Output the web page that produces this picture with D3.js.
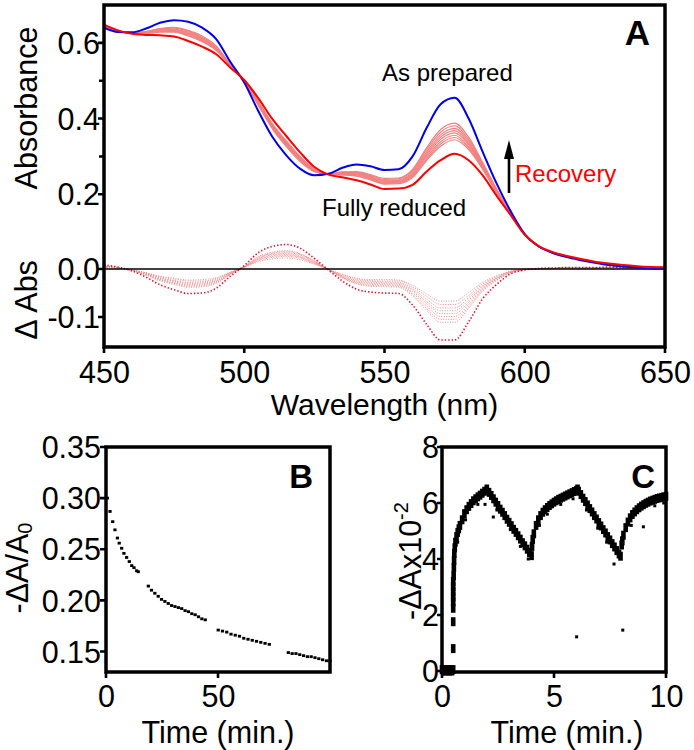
<!DOCTYPE html>
<html><head><meta charset="utf-8">
<script src="https://cdn.jsdelivr.net/npm/d3@7"></script>
<style>
html,body{margin:0;padding:0;background:#fff;}
#wrap{position:relative;width:694px;height:750px;}
#wrap svg{position:absolute;left:0;top:0;display:block;}
</style></head><body>
<div id="wrap"><svg id="chart" width="694" height="750"></svg><svg id="frames" width="694" height="750"></svg></div>
<script>
// ---------------- DATA ----------------
const wavelengths = [450,455,460,465,470,475,480,485,490,495,500,505,510,515,520,525,530,535,540,545,550,555,560,565,570,575,580,585,590,595,600,605,610,615,620,625,630,635,640,645,650];
const asPrepared = [0.640,0.629,0.628,0.638,0.653,0.660,0.656,0.640,0.610,0.550,0.495,0.420,0.352,0.303,0.267,0.250,0.254,0.270,0.279,0.274,0.264,0.266,0.300,0.375,0.438,0.455,0.400,0.312,0.228,0.155,0.095,0.062,0.045,0.034,0.026,0.019,0.013,0.009,0.006,0.004,0.003];
const fullyReduced = [0.648,0.633,0.624,0.621,0.620,0.617,0.605,0.590,0.570,0.535,0.502,0.454,0.399,0.354,0.310,0.272,0.252,0.245,0.237,0.226,0.214,0.215,0.225,0.260,0.290,0.307,0.290,0.250,0.196,0.145,0.093,0.063,0.047,0.037,0.029,0.022,0.017,0.013,0.010,0.008,0.007];
const rec1 = [0.644,0.631,0.626,0.630,0.638,0.641,0.633,0.618,0.592,0.543,0.498,0.435,0.373,0.326,0.286,0.260,0.253,0.259,0.260,0.252,0.242,0.243,0.266,0.323,0.371,0.388,0.351,0.284,0.214,0.150,0.094,0.062,0.046,0.035,0.027,0.020,0.015,0.011,0.008,0.006,0.005];
const rec2 = [0.644,0.631,0.626,0.630,0.637,0.639,0.631,0.615,0.590,0.543,0.499,0.437,0.376,0.329,0.289,0.261,0.253,0.258,0.258,0.250,0.239,0.241,0.263,0.318,0.364,0.381,0.345,0.281,0.212,0.150,0.094,0.062,0.046,0.035,0.027,0.021,0.015,0.011,0.008,0.006,0.005];
const rec3 = [0.644,0.631,0.626,0.629,0.635,0.636,0.628,0.613,0.588,0.542,0.499,0.439,0.378,0.331,0.291,0.262,0.253,0.256,0.256,0.248,0.237,0.238,0.259,0.312,0.357,0.374,0.340,0.278,0.210,0.150,0.094,0.062,0.046,0.036,0.028,0.021,0.015,0.011,0.008,0.006,0.005];
const rec4 = [0.645,0.631,0.626,0.628,0.634,0.635,0.626,0.611,0.586,0.541,0.499,0.440,0.380,0.333,0.292,0.263,0.253,0.255,0.254,0.246,0.235,0.236,0.256,0.307,0.351,0.368,0.335,0.275,0.209,0.149,0.094,0.062,0.046,0.036,0.028,0.021,0.015,0.011,0.008,0.006,0.005];
const rec5 = [0.645,0.632,0.625,0.627,0.632,0.633,0.624,0.609,0.585,0.541,0.499,0.441,0.382,0.335,0.294,0.264,0.253,0.254,0.252,0.244,0.233,0.234,0.253,0.303,0.345,0.362,0.331,0.273,0.208,0.149,0.094,0.063,0.046,0.036,0.028,0.021,0.016,0.012,0.009,0.007,0.006];
const rec6 = [0.645,0.632,0.625,0.627,0.631,0.631,0.622,0.607,0.583,0.540,0.500,0.443,0.384,0.337,0.296,0.265,0.253,0.253,0.251,0.242,0.231,0.232,0.250,0.298,0.339,0.356,0.326,0.271,0.207,0.148,0.094,0.063,0.046,0.036,0.028,0.021,0.016,0.012,0.009,0.007,0.006];
const rec7 = [0.646,0.632,0.625,0.626,0.630,0.630,0.620,0.605,0.582,0.539,0.500,0.444,0.385,0.339,0.298,0.266,0.253,0.252,0.249,0.240,0.229,0.230,0.247,0.293,0.333,0.350,0.322,0.268,0.205,0.148,0.094,0.063,0.047,0.037,0.028,0.021,0.016,0.012,0.009,0.007,0.006];
const rec8 = [0.646,0.632,0.625,0.625,0.628,0.628,0.618,0.603,0.580,0.539,0.500,0.446,0.387,0.341,0.299,0.267,0.253,0.251,0.248,0.238,0.227,0.228,0.244,0.289,0.327,0.344,0.318,0.266,0.204,0.147,0.094,0.063,0.047,0.037,0.029,0.022,0.016,0.012,0.009,0.007,0.006];
const recoverySpectra = [rec1,rec2,rec3,rec4,rec5,rec6,rec7,rec8];

const absTicks = [0.2,0.4,0.6];
const absMinorTicks = [0.3,0.5];
const deltaTicks = [0.0,-0.1];
const wlTicks = [450,500,550,600,650];

// Panel B
const bTime = [0.6,1.8,3.0,4.0,5.1,5.9,7.0,8.0,9.2,10.4,11.5,12.5,13.7,14.4,
  18.9,20.3,21.8,23.3,24.8,26.3,27.8,29.3,30.8,32.3,33.8,35.3,36.8,38.3,39.8,41.3,42.8,44.3,
  50.1,52.0,53.9,55.8,57.7,59.6,61.5,63.4,65.3,67.2,69.1,71.0,72.9,
  81.4,83.1,84.8,86.5,88.2,89.9,91.6,93.3,95.0,96.7,98.4,100.0];
const bValue = [0.300,0.287,0.277,0.269,0.261,0.256,0.251,0.246,0.242,0.238,0.234,0.232,0.229,0.228,
  0.214,0.210,0.207,0.204,0.201,0.199,0.197,0.195,0.194,0.193,0.192,0.190,0.189,0.187,0.186,0.184,0.182,0.181,
  0.171,0.170,0.169,0.167,0.166,0.165,0.163,0.162,0.161,0.160,0.159,0.158,0.157,
  0.149,0.148,0.148,0.147,0.146,0.145,0.145,0.144,0.143,0.142,0.141,0.141];
const bYTicks = [0.15,0.20,0.25,0.30,0.35];
const bXTicks = [0,50];

// Panel C
const cTime = [0,0.05,0.1,0.15,0.2,0.25,0.3,0.35,0.4,0.45,0.5,
  0.5,0.5,0.5,0.5,0.5,0.5,0.5,0.5,
  0.52,0.53,0.54,0.55,0.57,0.6,0.65,0.7,0.75,0.8,0.9,1.0,1.1,1.2,1.3,1.4,1.5,1.6,1.7,1.8,1.9,2.0,
  2.1,2.2,2.3,2.4,2.5,2.6,2.7,2.8,2.9,3.0,3.1,3.2,3.3,3.4,3.5,3.6,3.7,3.8,3.9,4.0,
  4.02,4.05,4.1,4.2,4.3,4.4,4.5,4.6,4.7,4.8,4.9,5.0,5.1,5.2,5.3,5.4,5.5,5.6,5.7,5.8,5.9,6.0,6.05,
  6.1,6.2,6.3,6.4,6.5,6.6,6.7,6.8,6.9,7.0,7.1,7.2,7.3,7.4,7.5,7.6,7.7,7.8,7.9,7.97,
  8.02,8.05,8.1,8.2,8.3,8.4,8.5,8.6,8.7,8.8,8.9,9.0,9.1,9.2,9.3,9.4,9.5,9.6,9.7,9.8,9.9,10.0];
const cValue = [0.05,0,0.05,0,0.05,0,0.05,0,0.05,0,0.05,
  0.8,1.76,2.24,2.47,2.65,2.83,3.01,3.19,
  3.4,3.7,3.95,4.2,4.4,4.6,4.8,4.95,5.08,5.2,5.4,5.62,5.76,5.88,5.98,6.08,6.15,6.22,6.28,6.35,6.42,6.5,
  6.38,6.27,6.15,6.03,5.91,5.78,5.67,5.55,5.42,5.31,5.19,5.06,4.95,4.83,4.71,4.58,4.47,4.35,4.23,4.12,
  4.45,4.7,4.9,5.2,5.4,5.55,5.67,5.76,5.84,5.91,5.97,6.03,6.08,6.13,6.17,6.21,6.25,6.29,6.33,6.37,6.41,6.45,6.5,
  6.42,6.3,6.17,6.05,5.93,5.8,5.68,5.55,5.43,5.3,5.18,5.05,4.93,4.8,4.68,4.55,4.43,4.3,4.18,4.1,
  4.5,4.65,4.85,5.12,5.32,5.47,5.59,5.68,5.76,5.83,5.89,5.94,5.99,6.03,6.07,6.1,6.13,6.16,6.18,6.2,6.22,6.24];
const cScatterTime = [0.7,1.05,1.6,1.92,2.29,2.45,3.05,3.5,3.85,4.35,4.7,5.3,5.85,6.01,6.45,6.95,7.35,7.68,8.07,8.45,8.99,9.5,9.9];
const cScatterValue = [4.6,5.4,5.95,5.95,5.5,5.75,5.05,4.45,4.0,5.2,5.6,5.95,6.15,1.22,5.75,5.1,4.6,3.82,1.46,5.2,5.15,5.9,6.0];
const cYTicks = [0,2,4,6,8];
const cXTicks = [0,5,10];

// ---------------- SCALES ----------------
const A = {l:104, r:665, t:5, b:347};
const B = {l:106, r:330, t:447, b:672};
const C = {l:442, r:666, t:447, b:672};
const xA = d3.scaleLinear().domain([450,650]).range([A.l,A.r]);
const yAbs = d3.scaleLinear().domain([0,0.7]).range([270,5]);
const yDel = d3.scaleLinear().domain([-0.1625,0]).range([347,269]);
const xB = d3.scaleLinear().domain([0,100]).range([B.l,B.r]);
const yB = d3.scaleLinear().domain([0.13,0.35]).range([B.b,B.t]);
const xC = d3.scaleLinear().domain([0,10]).range([C.l,C.r]);
const yC = d3.scaleLinear().domain([0,8]).range([671,447]);

const svg = d3.select("#chart");
const FONT = "Liberation Sans";
const TICKFONT = 30.5;
const LABELFONT = 30.5;

function styleAxis(g){
  g.attr("fill", null).attr("font-size", null).attr("font-family", null);
  g.select(".domain").remove();
  g.selectAll(".tick line").remove();
  g.selectAll(".tick text").attr("font-size", TICKFONT).attr("font-family", FONT).attr("fill","#000");
}
function label(x, y, txt, size, opts){
  const t = svg.append("text").attr("x",x).attr("y",y).attr("font-family",FONT).attr("font-size",size).attr("fill","#000").text(txt);
  if (opts) Object.entries(opts).forEach(([k,v]) => t.attr(k,v));
  return t;
}

// ---------------- PANEL A ----------------
const lineAbs = d3.line().x((d,i)=>xA(wavelengths[i])).y(d=>yAbs(d)).curve(d3.curveMonotoneX);
const lineDel = d3.line().x((d,i)=>xA(wavelengths[i])).y(d=>yDel(d)).curve(d3.curveMonotoneX);
const diff = s => s.map((v,i)=> v - asPrepared[i]);

const gA = svg.append("g");
gA.selectAll("path.drec").data(recoverySpectra).join("path").attr("class","drec")
  .attr("d", s=>lineDel(diff(s))).attr("fill","none").attr("stroke","#f28c8c")
  .attr("stroke-width",1).attr("stroke-dasharray","1,1.5");
gA.append("path").attr("d", lineDel(diff(fullyReduced))).attr("fill","none").attr("stroke","#e8102a")
  .attr("stroke-width",1.6).attr("stroke-dasharray","1.4,2");
gA.append("line").attr("x1",A.l).attr("x2",A.r).attr("y1",yDel(0)).attr("y2",yDel(0)).attr("stroke","#000").attr("stroke-width",1.6);
gA.selectAll("path.rec").data(recoverySpectra).join("path").attr("class","rec")
  .attr("d", s=>lineAbs(s)).attr("fill","none").attr("stroke","#f28080").attr("stroke-width",1.2);
gA.append("path").attr("d", lineAbs(asPrepared)).attr("fill","none").attr("stroke","#0000f0").attr("stroke-width",2);
gA.append("path").attr("d", lineAbs(fullyReduced)).attr("fill","none").attr("stroke","#ff0000").attr("stroke-width",2);

const axAbs = svg.append("g").attr("transform",`translate(${A.l},0)`)
  .call(d3.axisLeft(yAbs).tickValues(absTicks).tickFormat(d=>d.toFixed(1)));
styleAxis(axAbs); axAbs.selectAll(".tick text").attr("x",-4).attr("dy","0.35em");
const axDel = svg.append("g").attr("transform",`translate(${A.l},0)`)
  .call(d3.axisLeft(yDel).tickValues(deltaTicks).tickFormat(d=>d.toFixed(1)));
styleAxis(axDel); axDel.selectAll(".tick text").attr("x",-4).attr("dy","0.35em");
const axWl = svg.append("g").attr("transform",`translate(0,${A.b})`)
  .call(d3.axisBottom(xA).tickValues(wlTicks).tickFormat(d=>d));
styleAxis(axWl); axWl.selectAll(".tick text").attr("y",36).attr("dy",0);

label(0, 0, "Absorbance", LABELFONT, {"transform":"translate(37,108) rotate(-90)", "text-anchor":"middle"});
label(0, 0, "\u0394 Abs", LABELFONT, {"transform":"translate(37,300) rotate(-90)", "text-anchor":"middle"});
label((A.l+A.r)/2, 415, "Wavelength (nm)", 30, {"text-anchor":"middle"});
label(650, 45, "A", 35, {"text-anchor":"end", "font-weight":"bold"});
label(382, 81, "As prepared", 24);
label(322, 216, "Fully reduced", 24);
label(515, 182, "Recovery", 24, {"fill":"#ff0000"});
svg.append("rect").attr("x",507.7).attr("y",155).attr("width",2.6).attr("height",38).attr("fill","#000");
svg.append("path").attr("d","M509,140 L504,159 L514,159 Z").attr("fill","#000");

// ---------------- PANEL B ----------------
svg.append("g").selectAll("rect").data(bTime).join("rect")
  .attr("x",(d)=>xB(d)-1.6).attr("y",(d,i)=>yB(bValue[i])-1.4).attr("width",3.2).attr("height",2.8).attr("fill","#000");
const axBY = svg.append("g").attr("transform",`translate(${B.l},0)`)
  .call(d3.axisLeft(yB).tickValues(bYTicks).tickFormat(d=>d.toFixed(2)));
styleAxis(axBY); axBY.selectAll(".tick text").attr("x",-5).attr("dy","0.35em");
const axBX = svg.append("g").attr("transform",`translate(0,${B.b})`)
  .call(d3.axisBottom(xB).tickValues(bXTicks).tickFormat(d=>d));
styleAxis(axBX); axBX.selectAll(".tick text").attr("y",35).attr("dy",0);
label(313, 488, "B", 33, {"text-anchor":"end", "font-weight":"bold"});
label((B.l+B.r)/2, 743, "Time (min.)", LABELFONT, {"text-anchor":"middle"});
{
  const t = label(0, 0, "", LABELFONT, {"transform":"translate(28,568) rotate(-90)", "text-anchor":"middle"});
  t.append("tspan").text("-\u0394A/A");
  t.append("tspan").attr("font-size",20).attr("dy",4).text("0");
}

// ---------------- PANEL C ----------------
svg.append("g").selectAll("rect").data(cTime).join("rect")
  .attr("x",d=>xC(d)-2.3).attr("y",(d,i)=>yC(cValue[i])-4.5).attr("width",4.6).attr("height",9).attr("fill","#000");
svg.append("g").selectAll("rect").data(cScatterTime).join("rect")
  .attr("x",d=>xC(d)-1.5).attr("y",(d,i)=>yC(cScatterValue[i])-1.5).attr("width",3).attr("height",3).attr("fill","#000");
const axCY = svg.append("g").attr("transform",`translate(${C.l},0)`)
  .call(d3.axisLeft(yC).tickValues(cYTicks).tickFormat(d=>d));
styleAxis(axCY); axCY.selectAll(".tick text").attr("x",-3).attr("dy","0.35em");
const axCX = svg.append("g").attr("transform",`translate(0,${C.b})`)
  .call(d3.axisBottom(xC).tickValues(cXTicks).tickFormat(d=>d));
styleAxis(axCX); axCX.selectAll(".tick text").attr("y",35).attr("dy",0);
label(655, 488, "C", 33, {"text-anchor":"end", "font-weight":"bold"});
label(567, 743, "Time (min.)", LABELFONT, {"text-anchor":"middle"});
{
  const t = label(0, 0, "", LABELFONT, {"transform":"translate(421,561) rotate(-90)", "text-anchor":"middle"});
  t.append("tspan").text("-\u0394Ax10");
  t.append("tspan").attr("font-size",20).attr("dy",-13).text("-2");
}

// ---------------- FRAMES & TICKS (separate overlay svg) ----------------
const fsvg = d3.select("#frames");
function frameRect(box){
  fsvg.append("rect").attr("x",box.l).attr("y",box.t).attr("width",box.r-box.l).attr("height",box.b-box.t)
    .attr("fill","none").attr("stroke","#000").attr("stroke-width",3.5);
}
function ticksLeft(scale, x, values, len){
  fsvg.append("path").attr("d", values.map(v=>`M${x-len},${scale(v)}H${x}`).join(""))
    .attr("fill","none").attr("stroke","#000").attr("stroke-width",2.6);
}
function ticksBottom(scale, y, values, len){
  fsvg.append("path").attr("d", values.map(v=>`M${scale(v)},${y}V${y+len}`).join(""))
    .attr("fill","none").attr("stroke","#000").attr("stroke-width",2.6);
}
ticksLeft(yAbs, A.l, absTicks, 6); ticksLeft(yAbs, A.l, absMinorTicks, 5); ticksLeft(yDel, A.l, deltaTicks, 6);
ticksBottom(xA, A.b, wlTicks, 6);
ticksLeft(yB, B.l, bYTicks, 6); ticksBottom(xB, B.b, bXTicks, 6);
ticksLeft(yC, C.l, cYTicks, 5); ticksBottom(xC, C.b, cXTicks, 6);
frameRect(A); frameRect(B); frameRect(C);
</script>
</body></html>
